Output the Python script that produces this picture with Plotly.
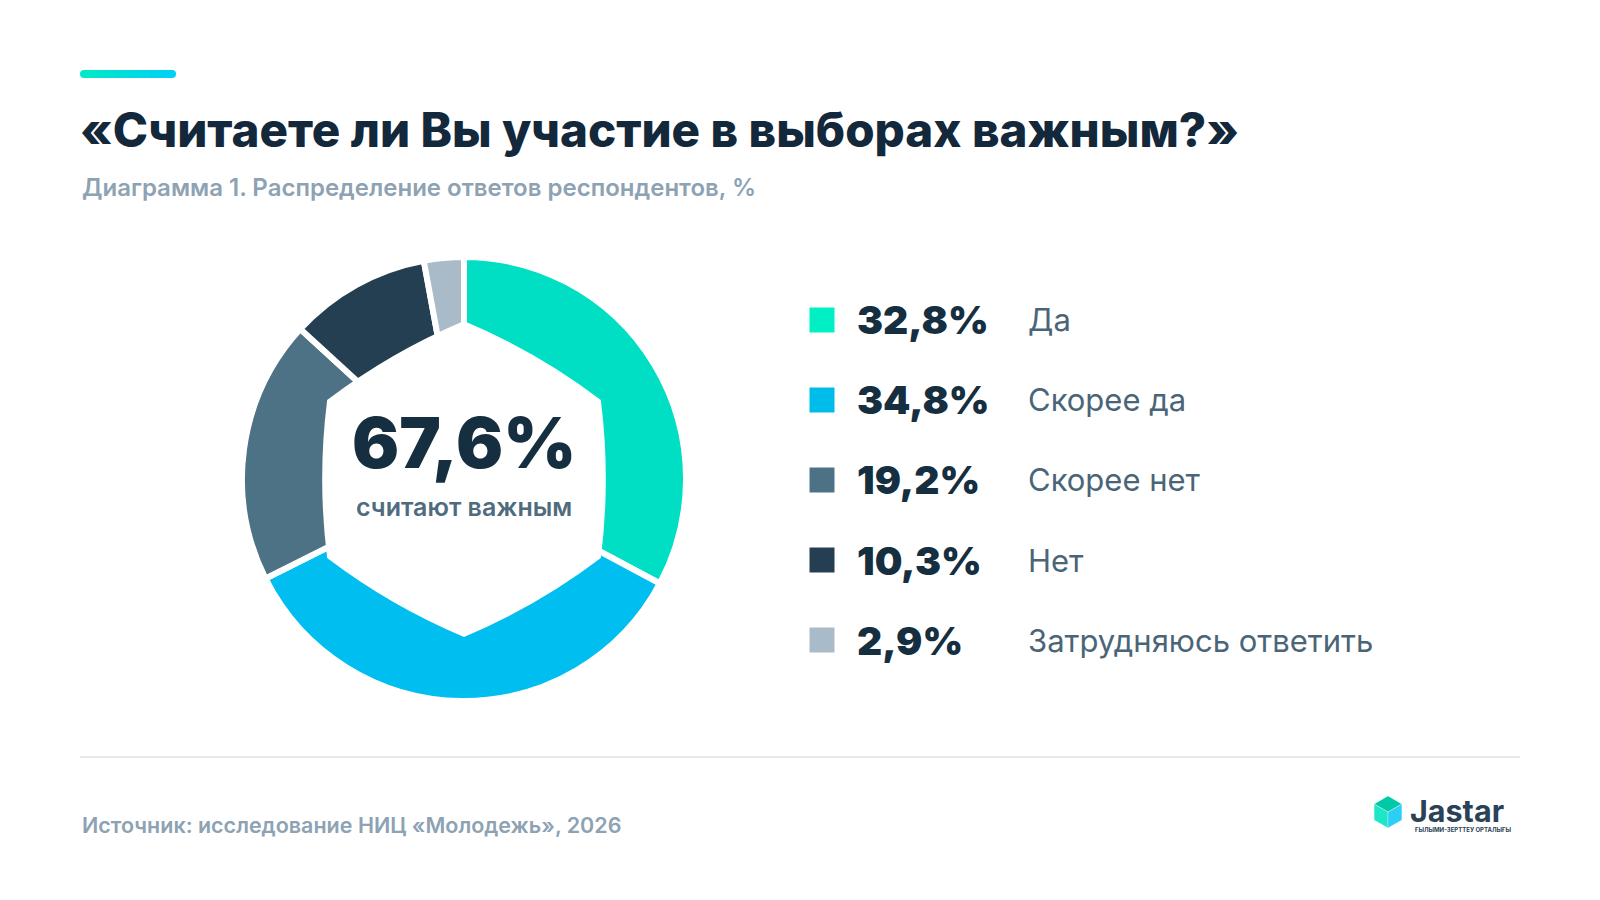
import math
import plotly.graph_objects as go

W, H = 1600, 900
OFF = 8  # page margin of the browser

# data
labels = ["Да", "Скорее да", "Скорее нет", "Нет", "Затрудняюсь ответить"]
values = [32.8, 34.8, 19.2, 10.3, 2.9]
value_text = ["32,8%", "34,8%", "19,2%", "10,3%", "2,9%"]
colors = ["#00DFC4", "#00BEF0", "#4E7285", "#243F51", "#A9BBC9"]
marker_colors = ["#00F0C4", "#00BCEB", "#4E7285", "#243F51", "#A9BBC9"]
center_value = "67,6%"
center_caption = "считают важным"

title = "«Считаете ли Вы участие в выборах важным?»"
subtitle = "Диаграмма 1. Распределение ответов респондентов, %"
source = "Источник: исследование НИЦ «Молодежь», 2026"

DARK = "#13283A"
GREY = "#8DA2B3"
LABEL = "#4A6578"


def px(x):
    return (x - OFF) / W


def py(y):
    return 1 - (y - OFF) / H


def hexcolor(c1, c2, t):
    a = [int(c1[i:i + 2], 16) for i in (1, 3, 5)]
    b = [int(c2[i:i + 2], 16) for i in (1, 3, 5)]
    return "#" + "".join(f"{round(x + (y - x) * t):02X}" for x, y in zip(a, b))


# donut geometry (pixels)
cx, cy, R = 464, 479, 222

fig = go.Figure()

fig.add_trace(go.Pie(
    labels=labels, values=values,
    marker=dict(colors=colors, line=dict(color="white", width=6)),
    hole=0.55, sort=False, direction="clockwise", rotation=0,
    textinfo="none", hoverinfo="label+value", showlegend=False,
    domain=dict(x=[px(cx - R), px(cx + R)], y=[py(cy + R), py(cy - R)]),
))

# legend markers through a category axis
fig.add_trace(go.Scatter(
    x=[0] * len(labels), y=labels, mode="markers", cliponaxis=False,
    marker=dict(symbol="square", size=25, color=marker_colors),
    hoverinfo="skip", showlegend=False, xaxis="x", yaxis="y",
))

# white hexagonal hole with slightly bulging sides
hr = 158
verts = [(cx + hr * math.cos(math.radians(a)), cy - hr * math.sin(math.radians(a)))
         for a in (90, 30, -30, -90, -150, 150)]
path = f"M {px(verts[0][0])},{py(verts[0][1])}"
for i in range(6):
    x0, y0 = verts[i]
    x1, y1 = verts[(i + 1) % 6]
    mx, my = (x0 + x1) / 2, (y0 + y1) / 2
    dx, dy = mx - cx, my - cy
    d = math.hypot(dx, dy)
    qx, qy = mx + dx / d * 10, my + dy / d * 10
    path += f" Q {px(qx)},{py(qy)} {px(x1)},{py(y1)}"
path += " Z"

shapes = [
    dict(type="path", xref="paper", yref="paper", path=path,
         fillcolor="white", line=dict(width=0), layer="above"),
    # separator
    dict(type="line", xref="paper", yref="paper", x0=px(80), x1=px(1520), y0=py(757), y1=py(757),
         line=dict(color="#E5EBF0", width=2)),
]

# accent bar with gradient and rounded ends
bx0, bx1, by, bh = 80, 176, 74, 8
n = 12
for i in range(n):
    sx0 = bx0 + bh / 2 + (bx1 - bx0 - bh) * i / n
    sx1 = bx0 + bh / 2 + (bx1 - bx0 - bh) * (i + 1) / n + 0.6
    shapes.append(dict(type="rect", xref="paper", yref="paper",
                       x0=px(sx0), x1=px(sx1), y0=py(by + bh / 2), y1=py(by - bh / 2),
                       fillcolor=hexcolor("#00E8C6", "#00D0F5", i / (n - 1)), line=dict(width=0)))
for ccx, col in ((bx0 + bh / 2, "#00E8C6"), (bx1 - bh / 2, "#00D0F5")):
    shapes.append(dict(type="circle", xref="paper", yref="paper",
                       x0=px(ccx - bh / 2), x1=px(ccx + bh / 2), y0=py(by + bh / 2), y1=py(by - bh / 2),
                       fillcolor=col, line=dict(width=0)))

# logo cube
lcx, lcy, lr = 1388, 812, 16
cube = [(lcx + lr * math.cos(math.radians(a)), lcy - lr * math.sin(math.radians(a)))
        for a in (90, 30, -30, -90, -150, 150)]
faces = [
    ([cube[5], cube[0], cube[1], (lcx, lcy)], "#00C9A7"),
    ([cube[5], (lcx, lcy), cube[3], cube[4]], "#1FE6C6"),
    ([(lcx, lcy), cube[1], cube[2], cube[3]], "#2BCFF6"),
]
for pts, col in faces:
    p = "M " + " L ".join(f"{px(a)},{py(b)}" for a, b in pts) + " Z"
    shapes.append(dict(type="path", xref="paper", yref="paper", path=p,
                       fillcolor=col, line=dict(color="rgba(255,255,255,0.5)", width=0.6)))

annotations = [
    dict(text=title, x=px(78), y=py(130), xanchor="left", yanchor="middle",
         font=dict(family="Inter", size=47.5, color=DARK, weight=800)),
    dict(text=subtitle, x=px(80), y=py(188), xanchor="left", yanchor="middle",
         font=dict(family="Inter", size=24, color=GREY, weight=600)),
    dict(text=center_value, x=px(cx), y=py(442), xanchor="center", yanchor="middle",
         font=dict(family="Inter", size=70, color="#152E40", weight=900)),
    dict(text=center_caption, x=px(cx), y=py(507), xanchor="center", yanchor="middle",
         font=dict(family="Inter", size=25, color="#4F6B7E", weight=600)),
    dict(text=source, x=px(80), y=py(825), xanchor="left", yanchor="middle",
         font=dict(family="Inter", size=21.5, color=GREY, weight=600)),
    dict(text="Jastar", x=px(1408), y=py(810), xanchor="left", yanchor="middle",
         font=dict(family="Inter", size=30.5, color="#2A4258", weight=700)),
    dict(text="ҒЫЛЫМИ-ЗЕРТТЕУ ОРТАЛЫҒЫ", x=px(1412), y=py(829), xanchor="left", yanchor="middle",
         font=dict(family="Inter", size=6, color="#2A4258", weight=700)),
]
for lab, vt in zip(labels, value_text):
    annotations.append(dict(text=vt, xref="paper", yref="y", x=px(855), y=lab,
                            xanchor="left", yanchor="middle",
                            font=dict(family="Inter", size=39, color="#152E40", weight=900)))
    annotations.append(dict(text=lab, xref="paper", yref="y", x=px(1026), y=lab,
                            xanchor="left", yanchor="middle",
                            font=dict(family="Inter", size=31, color=LABEL)))
for a in annotations:
    a.setdefault("xref", "paper")
    a.setdefault("yref", "paper")
    a["showarrow"] = False

fig.update_layout(
    width=W, height=H,
    margin=dict(l=0, r=0, t=0, b=0),
    paper_bgcolor="white", plot_bgcolor="rgba(0,0,0,0)",
    xaxis=dict(domain=[px(822), 1], range=[0, 1], visible=False, fixedrange=True),
    yaxis=dict(domain=[py(680), py(280)], type="category", categoryorder="array",
               categoryarray=labels, range=[4.5, -0.5], visible=False, fixedrange=True),
    shapes=shapes, annotations=annotations,
    font=dict(family="Inter"),
)

fig.write_html("out.html")
